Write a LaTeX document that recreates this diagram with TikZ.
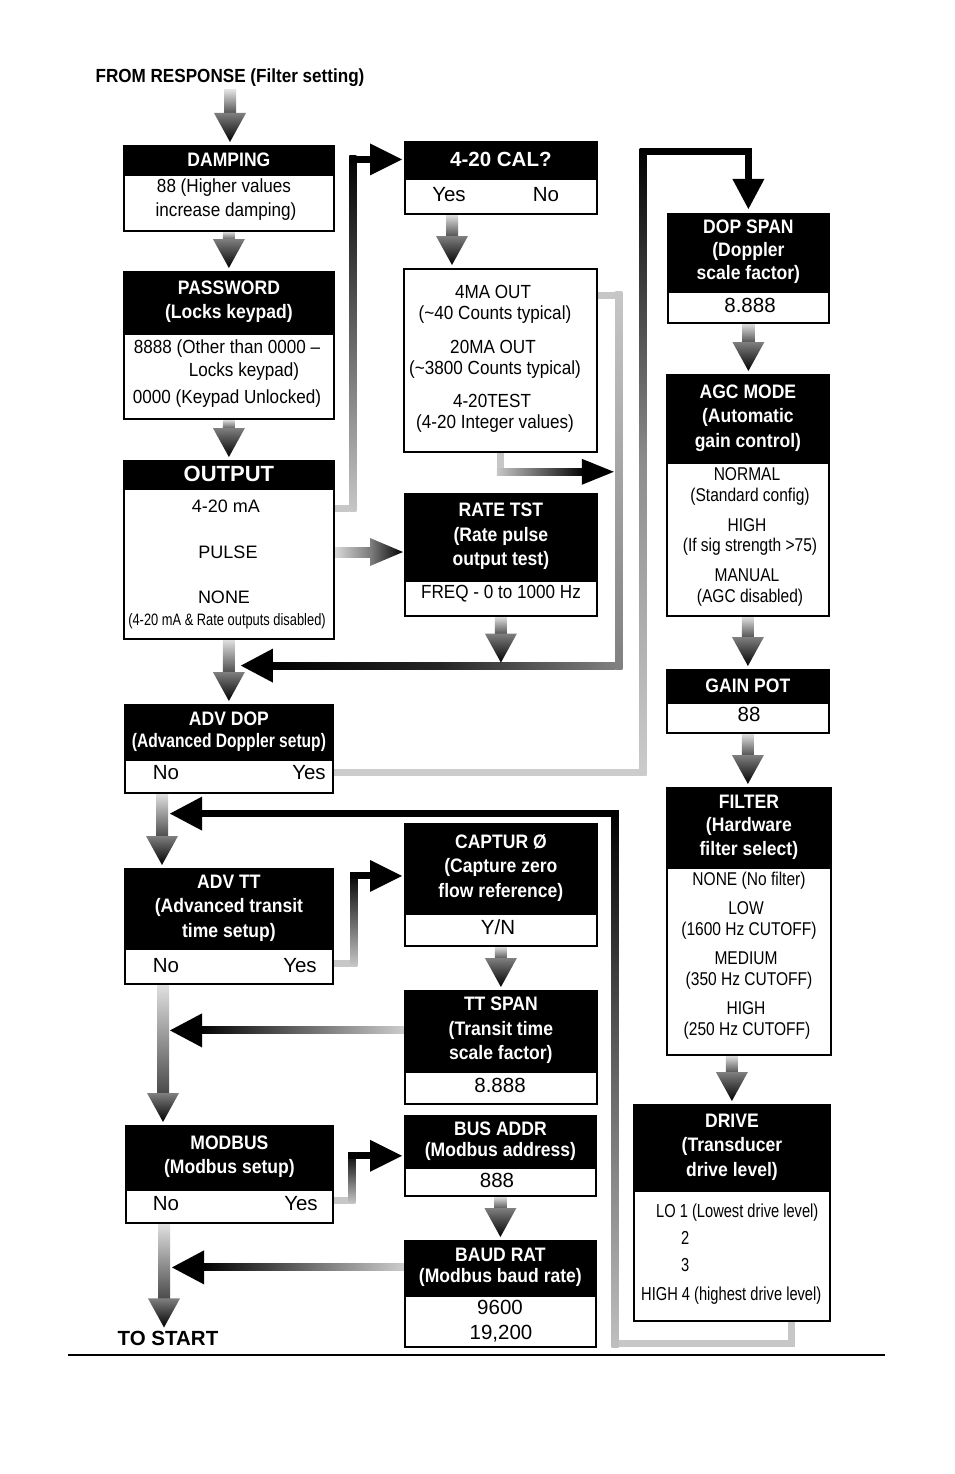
\documentclass[tikz,border=0pt]{standalone}
\usepackage{fontspec}
\setmainfont{Liberation Sans}
\newfontfamily\fA{Liberation Sans}[FakeStretch=0.9]
\newfontfamily\fB{Liberation Sans}[FakeStretch=0.84]
\newfontfamily\fC{Liberation Sans}[FakeStretch=0.78]
\newfontfamily\fD{Liberation Sans}[FakeStretch=0.8]
\usetikzlibrary{calc,backgrounds}

\tikzset{
  hdr/.style={fill=black, draw=black, line width=1.8pt, text=white, align=center, inner sep=0pt, anchor=north west, font=\fA\bfseries\fontsize{19.5}{24.5}\selectfont},
  bod/.style={fill=white, draw=black, line width=1.8pt, inner sep=0pt, anchor=north west},
  tx/.style={inner sep=0pt, text height=13.6pt, text depth=0pt, anchor=center, font=\fA\fontsize{19}{22}\selectfont},
  tn/.style={tx, font=\fB\fontsize{18.5}{22}\selectfont, text height=13.2pt},
  td/.style={tx, font=\fC\fontsize{18.8}{22}\selectfont, anchor=west},
  tv/.style={tx, font=\fontsize{20.5}{22}\selectfont, text height=14.7pt},
  tout/.style={tx, font=\fontsize{18}{22}\selectfont, text height=12.9pt},
}

% vertical gradient arrow: #1 start coordinate, #2 target (its y)
\newcommand{\downarr}[2]{%
  \coordinate (arS) at #1;
  \coordinate (arT0) at (arS |- #2);
  \coordinate (arT) at ($(arT0)+(0,-3)$);
  \shade[top color=black!12, bottom color=black!72] ($(arS)+(-6,0)$) rectangle ($(arT)+(6,-27)$);
  \shade[top color=black!50, bottom color=black] ($(arT)+(-16,-29)$) -- ($(arT)+(16,-29)$) -- (arT) -- cycle;
}
% right-pointing black head at tip #1
\newcommand{\headR}[1]{\fill[black] ($#1+(-32,-16)$) -- #1 -- ($#1+(-32,16)$) -- cycle;}
\newcommand{\headL}[1]{\fill[black] ($#1+(32,-17)$) -- #1 -- ($#1+(32,17)$) -- cycle;}

\begin{document}
\begin{tikzpicture}[x=1pt,y=-1pt]
\useasboundingbox (0,0) rectangle (954,1474);

% ---------- title ----------
\node[tx, font=\fA\bfseries\fontsize{19}{22}\selectfont] (title) at (230,76) {FROM RESPONSE (Filter setting)};

% ---------- left column ----------
\node[hdr, minimum width=210, minimum height=27] (damph) at (123,145) {DAMPING};
\node[bod, minimum width=210, minimum height=56] (dampb) at (damph.south west) {};
\node[tx] (dmp1) at (224,186) {88 (Higher values};
\node[tx] (dmp2) at (226,210) {increase damping)};

\node[hdr, minimum width=210, minimum height=60] (passh) at (123,271) {PASSWORD\\(Locks keypad)};
\node[bod, minimum width=210, minimum height=85] (passb) at (passh.south west) {};
\node[tx] (pw1) at (227,347) {8888 (Other than 0000 –};
\node[tx] (pw2) at (244,370) {Locks keypad)};
\node[tx] (pw3) at (227,397) {0000 (Keypad Unlocked)};

\node[hdr, minimum width=210, minimum height=26, font=\bfseries\fontsize{22}{24}\selectfont] (outh) at (123,460) {OUTPUT};
\node[bod, minimum width=210, minimum height=150] (outb) at (outh.south west) {};
\node[tout] (t420) at (226,506) {4-20 mA};
\node[tout] (tpulse) at (228,552) {PULSE};
\node[tout] (tnone) at (224,597) {NONE};
\node[tx, font=\fC\fontsize{16.5}{18}\selectfont, text height=11.8pt] (tdis) at (227,620) {(4-20 mA \& Rate outputs disabled)};

\node[hdr, minimum width=208, minimum height=53, font=\fA\bfseries\fontsize{19.5}{22}\selectfont] (advdoph) at (124,704) {ADV DOP\\{\fD (Advanced Doppler setup)}};
\node[bod, minimum width=208, minimum height=33] (advdopb) at (advdoph.south west) {};
\node[tv] (no1) at (166,772) {No};
\node[tv] (yes1) at (309,772) {Yes};

\node[hdr, minimum width=208, minimum height=78] (advtth) at (124,868) {ADV TT\\(Advanced transit\\time setup)};
\node[bod, minimum width=208, minimum height=35] (advttb) at (advtth.south west) {};
\node[tv] (no2) at (166,965) {No};
\node[tv] (yes2) at (300,965) {Yes};

\node[hdr, minimum width=207, minimum height=62] (modh) at (125,1125) {MODBUS\\(Modbus setup)};
\node[bod, minimum width=207, minimum height=33] (modb) at (modh.south west) {};
\node[tv] (no3) at (166,1203) {No};
\node[tv] (yes3) at (301,1203) {Yes};

\node[tx, font=\bfseries\fontsize{20.5}{22}\selectfont, text height=14.7pt] (tostart) at (168,1338) {TO START};

% ---------- middle column ----------
\node[hdr, minimum width=192, minimum height=35, font=\bfseries\fontsize{20.5}{24}\selectfont] (calh) at (404,141) {4-20 CAL?};
\node[bod, minimum width=192, minimum height=35] (calb) at (calh.south west) {};
\node[tv] (yesA) at (449,194) {Yes};
\node[tv] (noA) at (546,194) {No};

\node[bod, minimum width=193, minimum height=183] (mab) at (403,268) {};
\node[tx] (ma1) at (493,292) {4MA OUT};
\node[tx] (ma2) at (495,313) {(\textasciitilde 40 Counts typical)};
\node[tx] (ma3) at (493,347) {20MA OUT};
\node[tx] (ma4) at (495,368) {(\textasciitilde 3800 Counts typical)};
\node[tx] (ma5) at (492,401) {4-20TEST};
\node[tx] (ma6) at (495,422) {(4-20 Integer values)};

\node[hdr, minimum width=192, minimum height=85] (rateh) at (404,493) {RATE TST\\(Rate pulse\\output test)};
\node[bod, minimum width=192, minimum height=35] (rateb) at (rateh.south west) {};
\node[tx] (freq) at (501,592) {FREQ - 0 to 1000 Hz};

\node[hdr, minimum width=192, minimum height=88] (capth) at (404,823) {CAPTUR Ø\\(Capture zero\\flow reference)};
\node[bod, minimum width=192, minimum height=32] (captb) at (capth.south west) {};
\node[tv] (yn) at (498,927) {Y/N};

\node[hdr, minimum width=192, minimum height=79] (ttsh) at (404,990) {TT SPAN\\(Transit time\\scale factor)};
\node[bod, minimum width=192, minimum height=32] (ttsb) at (ttsh.south west) {};
\node[tv] (ttsv) at (500,1085) {8.888};

\node[hdr, minimum width=191, minimum height=50, font=\fA\bfseries\fontsize{19.5}{21}\selectfont] (bush) at (404,1115) {BUS ADDR\\(Modbus address)};
\node[bod, minimum width=191, minimum height=28] (busb) at (bush.south west) {};
\node[tv] (busv) at (497,1180) {888};

\node[hdr, minimum width=191, minimum height=53, font=\fA\bfseries\fontsize{19.5}{21}\selectfont] (baudh) at (404,1240) {BAUD RAT\\(Modbus baud rate)};
\node[bod, minimum width=191, minimum height=51] (baudb) at (baudh.south west) {};
\node[tv] (bv1) at (500,1307) {9600};
\node[tv] (bv2) at (501,1332) {19,200};

% ---------- right column ----------
\node[hdr, minimum width=161, minimum height=76, font=\fA\bfseries\fontsize{19.5}{23}\selectfont] (dsh) at (667,213) {DOP SPAN\\(Doppler\\scale factor)};
\node[bod, minimum width=161, minimum height=31] (dspb) at (dsh.south west) {};
\node[tv] (dsv) at (750,305) {8.888};

\node[hdr, minimum width=162, minimum height=86] (agch) at (666,374) {AGC MODE\\(Automatic\\gain control)};
\node[bod, minimum width=162, minimum height=153] (agcb) at (agch.south west) {};
\node[tn] (ag1) at (747,474) {NORMAL};
\node[tn] (ag2) at (750,495) {(Standard config)};
\node[tn] (ag3) at (747,525) {HIGH};
\node[tn] (ag4) at (750,545) {(If sig strength >75)};
\node[tn] (ag5) at (747,575) {MANUAL};
\node[tn] (ag6) at (750,596) {(AGC disabled)};

\node[hdr, minimum width=162, minimum height=31] (gainh) at (666,669) {GAIN POT};
\node[bod, minimum width=162, minimum height=30] (gainb) at (gainh.south west) {};
\node[tv] (gv) at (749,714) {88};

\node[hdr, minimum width=164, minimum height=78, font=\fA\bfseries\fontsize{19.5}{23.5}\selectfont] (filth) at (666,787) {FILTER\\(Hardware\\filter select)};
\node[bod, minimum width=164, minimum height=187] (filtb) at (filth.south west) {};
\node[tn] (fl1) at (749,879) {NONE (No filter)};
\node[tn] (fl2) at (746,908) {LOW};
\node[tn] (fl3) at (749,929) {(1600 Hz CUTOFF)};
\node[tn] (fl4) at (746,958) {MEDIUM};
\node[tn] (fl5) at (749,979) {(350 Hz CUTOFF)};
\node[tn] (fl6) at (746,1008) {HIGH};
\node[tn] (fl7) at (747,1029) {(250 Hz CUTOFF)};

\node[hdr, minimum width=196, minimum height=84] (driveh) at (633,1104) {DRIVE\\(Transducer\\drive level)};
\node[bod, minimum width=196, minimum height=130] (driveb) at (driveh.south west) {};
\node[td] (dr1) at (656,1211) {LO 1 (Lowest drive level)};
\node[td] (dr2) at (681,1238) {2};
\node[td] (dr3) at (681,1265) {3};
\node[td] (dr4) at (641,1294) {HIGH 4 (highest drive level)};

% bottom rule
\coordinate (ruleL) at (68,1355);
\coordinate (ruleR) at (885,1355);
\draw[line width=2pt] (ruleL) -- (ruleR);

% ---------- connectors ----------
\begin{pgfonlayer}{background}
\fill[white] (0,0) rectangle (954,1474);

% main vertical arrows
\downarr{($(title.south)+(0,7)$)}{damph.north}
\downarr{(dampb.south)}{passh.north}
\downarr{(passb.south)}{outh.north}
\downarr{(outb.south)}{advdoph.north}
\downarr{($(advdopb.south -| no1)+(-4,0)$)}{advtth.north}
\downarr{($(advttb.south -| no2)+(-3,0)$)}{modh.north}
\downarr{($(modb.south -| no3)+(-2,0)$)}{tostart.north}
\downarr{($(calb.south -| yesA)+(3,0)$)}{mab.north}
\downarr{(dspb.south)}{agch.north}
\downarr{(agcb.south)}{gainh.north}
\downarr{(gainb.south)}{filth.north}
\downarr{(filtb.south -| driveh.north)}{driveh.north}
\downarr{(captb.south)}{ttsh.north}
\downarr{(busb.south)}{baudh.north}

% PULSE -> RATE TST
\coordinate (p0) at (outb.east |- tpulse);
\coordinate (p1) at ($(p0 -| rateh.west)+(-1,0)$);
\shade[left color=black!15, right color=black!55] ($(p0)+(0,-5)$) rectangle ($(p1)+(-30,5)$);
\shade[left color=black!50, right color=black] ($(p1)+(-33,-14)$) -- (p1) -- ($(p1)+(-33,14)$) -- cycle;

% 4-20 mA -> 4-20 CAL?
\coordinate (a0) at ($(outb.east |- t420)+(0,2)$);
\coordinate (a1) at ($(a0)+(18,0)$);
\coordinate (a2) at (a1 |- calh.west);
\coordinate (a3) at ($(calh.west)+(-2,0)$);
\shade[top color=black, bottom color=black!22] ($(a2)+(-3.5,-3.5)$) rectangle ($(a1)+(3.5,3.5)$);
\fill[black!22] ($(a0)+(0,-3.5)$) rectangle ($(a1)+(-3.5,3.5)$);
\fill[black] ($(a2)+(-3.5,-3.5)$) rectangle ($(a3)+(-29,3.5)$);
\headR{(a3)}

% 4MA box -> loop line, and loop back to ADV DOP
\coordinate (b0) at (mab.south);
\coordinate (b1) at ($(b0)+(0,19)$);
\coordinate (c0) at ($(mab.north east)+(0,27)$);
\coordinate (c1) at ($(c0)+(21,0)$);
\coordinate (c2) at ($(c1 |- rateb.south)+(0,49)$);
\coordinate (c3) at ($(c2 -| outb.south)+(12,0)$);
\coordinate (b2) at ($(c1 |- b1)+(-5,0)$);
\shade[top color=black!22, bottom color=black!50] ($(c1)+(-3.5,-3.5)$) rectangle ($(c2)+(3.5,3.5)$);
\fill[black!22] ($(c0)+(0,-3.5)$) rectangle ($(c1)+(-3.5,3.5)$);
\shade[left color=black, right color=black!50, middle color=black!85] ($(c3)+(28,-3.5)$) rectangle ($(c2)+(-3.5,3.5)$);
\headL{(c3)}
\fill[black!22] ($(b0)+(-3.5,0)$) rectangle ($(b1)+(3.5,3.5)$);
\shade[left color=black!22, right color=black] ($(b1)+(-3.5,-3.5)$) rectangle ($(b2)+(-29,3.5)$);
\fill[black] ($(b2)+(-32,-13)$) -- (b2) -- ($(b2)+(-32,13)$) -- cycle;
\downarr{(rateb.south)}{c2}

% ADV DOP Yes -> DOP SPAN
\coordinate (d0) at (advdopb.east |- yes1);
\coordinate (d1) at ($(d0 -| dsh.west)+(-24,0)$);
\coordinate (d2) at ($(d1 |- calh.north)+(0,11)$);
\coordinate (d3) at (d2 -| dsh.north);
\coordinate (d4) at ($(dsh.north)+(0,-4)$);
\fill[black!20] ($(d0)+(0,-3.5)$) rectangle ($(d1)+(-3.5,3.5)$);
\shade[top color=black, bottom color=black!20, middle color=black!45] ($(d2)+(-3.5,-3.5)$) rectangle ($(d1)+(3.5,3.5)$);
\fill[black] ($(d2)+(-3.5,-3.5)$) rectangle ($(d3)+(3.5,3.5)$);
\fill[black] ($(d3)+(-3.5,0)$) rectangle ($(d4)+(3.5,-28)$);
\fill[black] ($(d4)+(-16,-30)$) -- ($(d4)+(16,-30)$) -- (d4) -- cycle;

% DRIVE -> back to ADV TT
\coordinate (e0) at ($(driveb.south east)+(-39,0)$);
\coordinate (e1) at ($(e0)+(0,22)$);
\coordinate (e2) at ($(e1 -| driveh.west)+(-18,0)$);
\coordinate (e3) at ($(e2 |- advdopb.south)+(0,20)$);
\coordinate (e4) at ($(e3 -| no1)+(4,0)$);
\fill[black!22] ($(e0)+(-3.5,0)$) rectangle ($(e1)+(3.5,3.5)$);
\fill[black!22] ($(e2)+(3.5,-3.5)$) rectangle ($(e1)+(3.5,3.5)$);
\shade[top color=black, bottom color=black!25, middle color=black!60] ($(e3)+(-3.5,-3.5)$) rectangle ($(e2)+(3.5,3.5)$);
\fill[black] ($(e4)+(30,-3.5)$) rectangle ($(e3)+(3.5,3.5)$);
\headL{(e4)}

% ADV TT Yes -> CAPTUR
\coordinate (f0) at ($(advttb.east |- yes2)+(0,-2)$);
\coordinate (f1) at ($(f0)+(20,0)$);
\coordinate (f2) at ($(f1 |- capth.west)+(0,8)$);
\coordinate (f3) at ($(f2 -| capth.west)+(-2,0)$);
\shade[top color=black, bottom color=black!22] ($(f2)+(-3.5,-3.5)$) rectangle ($(f1)+(3.5,3.5)$);
\fill[black!22] ($(f0)+(0,-3.5)$) rectangle ($(f1)+(-3.5,3.5)$);
\fill[black] ($(f2)+(-3.5,-3.5)$) rectangle ($(f3)+(-29,3.5)$);
\headR{(f3)}

% MODBUS Yes -> BUS ADDR
\coordinate (g0) at ($(modb.east |- yes3)+(0,-3)$);
\coordinate (g1) at ($(g0)+(18,0)$);
\coordinate (g2) at ($(g1 |- bush.south)+(0,-11)$);
\coordinate (g3) at ($(g2 -| bush.west)+(-2,0)$);
\shade[top color=black, bottom color=black!22] ($(g2)+(-3.5,-3.5)$) rectangle ($(g1)+(3.5,3.5)$);
\fill[black!22] ($(g0)+(0,-3.5)$) rectangle ($(g1)+(-3.5,3.5)$);
\fill[black] ($(g2)+(-3.5,-3.5)$) rectangle ($(g3)+(-29,3.5)$);
\headR{(g3)}

% TT SPAN -> ADV TT / MODBUS line
\coordinate (h0) at (ttsh.west);
\coordinate (h1) at ($(h0 -| no2)+(4,0)$);
\shade[left color=black, right color=black!20, middle color=black!60] ($(h1)+(29,-3.5)$) rectangle ($(h0)+(0,3.5)$);
\headL{(h1)}

% BAUD RAT -> TO START line
\coordinate (i0) at (baudh.west);
\coordinate (i1) at ($(i0 -| no3)+(6,0)$);
\shade[left color=black, right color=black!20, middle color=black!60] ($(i1)+(29,-3.5)$) rectangle ($(i0)+(0,3.5)$);
\headL{(i1)}
\end{pgfonlayer}
\end{tikzpicture}
\end{document}
